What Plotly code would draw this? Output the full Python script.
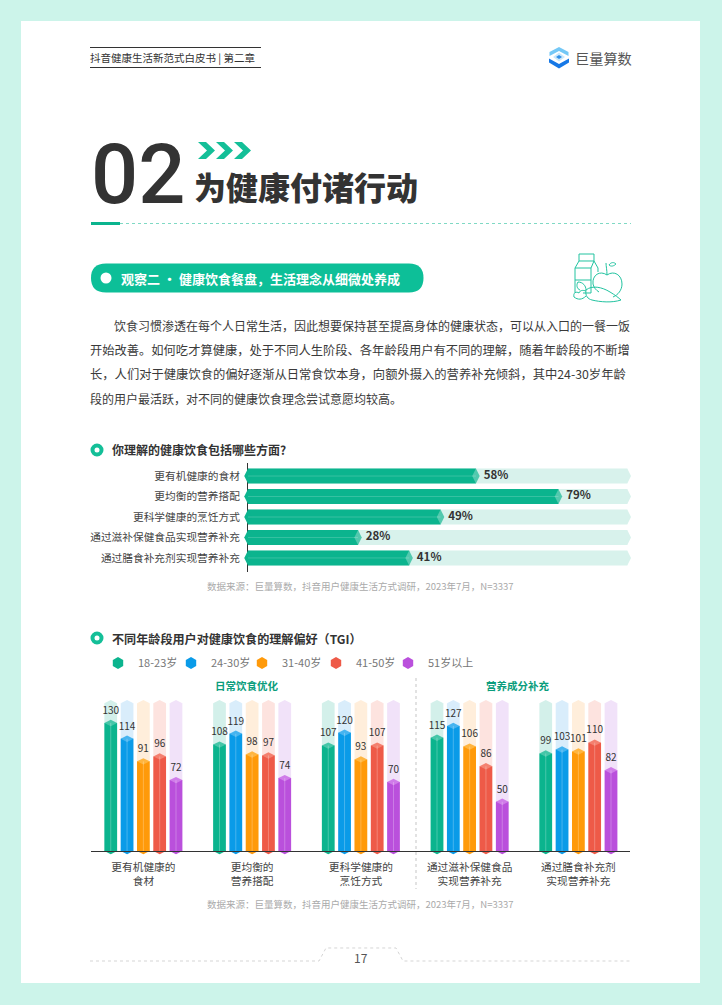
import re
import plotly.graph_objects as go

W, H = 722, 1005
CJK = "Noto Sans CJK SC"

# ---- data ----
bar_categories = ["更有机健康的食材", "更均衡的营养搭配", "更科学健康的烹饪方式",
                  "通过滋补保健食品实现营养补充", "通过膳食补充剂实现营养补充"]
bar_values = [58, 79, 49, 28, 41]
bar_track = 96.5

tgi_categories = ["更有机健康的<br>食材", "更均衡的<br>营养搭配", "更科学健康的<br>烹饪方式",
                  "通过滋补保健食品<br>实现营养补充", "通过膳食补充剂<br>实现营养补充"]
age_groups = ["18-23岁", "24-30岁", "31-40岁", "41-50岁", "51岁以上"]
tgi_18_23 = [130, 108, 107, 115, 99]
tgi_24_30 = [114, 119, 120, 127, 103]
tgi_31_40 = [91, 98, 93, 106, 101]
tgi_41_50 = [96, 97, 107, 86, 110]
tgi_51_up = [72, 74, 70, 50, 82]
tgi_track = 150

body_lines = ["饮食习惯渗透在每个人日常生活，因此想要保持甚至提高身体的健康状态，可以从入口的一餐一饭",
              "开始改善。如何吃才算健康，处于不同人生阶段、各年龄段用户有不同的理解，随着年龄段的不断增",
              "长，人们对于健康饮食的偏好逐渐从日常食饮本身，向额外摄入的营养补充倾斜，其中24-30岁年龄",
              "段的用户最活跃，对不同的健康饮食理念尝试意愿均较高。"]
source_text = "数据来源：巨量算数，抖音用户健康生活方式调研，2023年7月，N=3337"

# colours
GREEN = "#0bb48e"
main_colors = ["#0bb48e", "#0a9be8", "#ff9a0a", "#ee5a48", "#ba50dc"]
cap_colors = ["#45c6a8", "#45b4f0", "#ffb53f", "#f4806f", "#d07ce9"]
track_colors = ["#d3f0ea", "#d9edfb", "#ffeedb", "#fde3df", "#f1e2f9"]


# page pixels -> paper coords
def px(x):
    return x / W


def py(y):
    return 1 - y / H


def svg(d):
    # "M x y L x y Q ..." written in page pixels, numbers come in x,y pairs
    out, is_x = [], True
    for tok in re.findall(r"[A-Za-z]|-?[\d.]+", d):
        if tok.isalpha():
            out.append(tok)
        else:
            out.append(f"{px(float(tok)):.5f}" if is_x else f"{py(float(tok)):.5f}")
            is_x = not is_x
    return " ".join(out)


shapes = []
annotations = []


def rect(x0, y0, x1, y1, color, layer="below"):
    shapes.append(dict(type="rect", xref="paper", yref="paper", x0=px(x0), x1=px(x1), y0=py(y0), y1=py(y1),
                       fillcolor=color, line_width=0, layer=layer))


def circle(cx, cy, r, color, layer="above"):
    shapes.append(dict(type="circle", xref="paper", yref="paper", x0=px(cx - r), x1=px(cx + r),
                       y0=py(cy - r), y1=py(cy + r), fillcolor=color, line_width=0, layer=layer))


def line(x0, y0, x1, y1, color, width=1, dash="solid"):
    shapes.append(dict(type="line", xref="paper", yref="paper", x0=px(x0), x1=px(x1), y0=py(y0), y1=py(y1),
                       line=dict(color=color, width=width, dash=dash)))


def path(d, fill=None, color=None, width=0, dash="solid"):
    shapes.append(dict(type="path", xref="paper", yref="paper", path=svg(d),
                       fillcolor=fill if fill else "rgba(0,0,0,0)",
                       line=dict(color=color if color else "rgba(0,0,0,0)", width=width, dash=dash)))


def text(x, y, s, size, color="#333333", anchor="left", weight=400, family=CJK):
    annotations.append(dict(xref="paper", yref="paper", x=px(x), y=py(y), text=s, showarrow=False,
                            xanchor=anchor, yanchor="middle", align=anchor, borderpad=0, borderwidth=0,
                            font=dict(family=family, size=size, color=color, weight=weight)))


fig = go.Figure()

# ---- horizontal bars ----
ypos = bar_categories
fig.add_trace(go.Bar(x=[bar_track] * 5, y=ypos, orientation="h", marker=dict(color="#d8f2ec", line_width=0),
                     xaxis="x", yaxis="y", showlegend=False))
fig.add_trace(go.Bar(x=bar_values, y=ypos, orientation="h", marker=dict(color=GREEN, line_width=0),
                     xaxis="x", yaxis="y", showlegend=False))
# pointed ends
fig.add_trace(go.Scatter(x=[bar_track] * 5, y=ypos, mode="markers", cliponaxis=False, showlegend=False,
                         marker=dict(symbol="diamond-tall", size=10.7, color="#d8f2ec", line_width=0),
                         xaxis="x", yaxis="y"))
fig.add_trace(go.Scatter(x=[0] * 5, y=ypos, mode="markers", cliponaxis=False, showlegend=False,
                         marker=dict(symbol="diamond-tall", size=10.7, color=GREEN, line_width=0),
                         xaxis="x", yaxis="y"))
fig.add_trace(go.Scatter(x=bar_values, y=ypos, mode="markers+text", cliponaxis=False, showlegend=False,
                         text=[f"{v}%" for v in bar_values], textposition="middle right",
                         textfont=dict(family=CJK, size=11.5, color="#333333", weight=700),
                         marker=dict(symbol="diamond-tall", size=10.7, color="#52c9ae", line_width=0),
                         xaxis="x", yaxis="y"))
# thin highlight along each bar
hx, hy = [], []
for c, v in zip(ypos, bar_values):
    hx += [0, v, None]
    hy += [c, c, None]
fig.add_trace(go.Scatter(x=hx, y=hy, mode="lines", line=dict(color="rgba(255,255,255,0.18)", width=1),
                         showlegend=False, xaxis="x", yaxis="y"))

# ---- TGI columns ----
tgi_series = [tgi_18_23, tgi_24_30, tgi_31_40, tgi_41_50, tgi_51_up]
pitch = 0.15
col_w = 0.117
for j, vals in enumerate(tgi_series):
    xs = [i + (j - 2) * pitch for i in range(5)]
    fig.add_trace(go.Bar(x=xs, y=[tgi_track] * 5, width=col_w, marker=dict(color=track_colors[j], line_width=0),
                         xaxis="x2", yaxis="y2", showlegend=False))
    fig.add_trace(go.Scatter(x=xs, y=[tgi_track] * 5, mode="markers", cliponaxis=False, showlegend=False,
                             marker=dict(symbol="diamond-wide", size=9.1, color=track_colors[j], line_width=0),
                             xaxis="x2", yaxis="y2"))
for j, vals in enumerate(tgi_series):
    xs = [i + (j - 2) * pitch for i in range(5)]
    fig.add_trace(go.Bar(x=xs, y=vals, width=col_w, marker=dict(color=main_colors[j], line_width=0),
                         xaxis="x2", yaxis="y2", showlegend=False))
    fig.add_trace(go.Scatter(x=xs, y=[0] * 5, mode="markers", cliponaxis=False, showlegend=False,
                             marker=dict(symbol="diamond-wide", size=9.1, color=main_colors[j], line_width=0),
                             xaxis="x2", yaxis="y2"))
    fig.add_trace(go.Scatter(x=xs, y=vals, mode="markers+text", cliponaxis=False, showlegend=False,
                             text=[str(v) for v in vals], textposition="top center",
                             textfont=dict(family=CJK, size=10, color="#333333"),
                             marker=dict(symbol="diamond-wide", size=9.1, color=cap_colors[j], line_width=0),
                             xaxis="x2", yaxis="y2"))
    lx, ly = [], []
    for x, v in zip(xs, vals):
        lx += [x, x, None]
        ly += [0, v, None]
    fig.add_trace(go.Scatter(x=lx, y=ly, mode="lines", line=dict(color="rgba(255,255,255,0.25)", width=1),
                             showlegend=False, xaxis="x2", yaxis="y2"))
    # legend swatch, one legend per entry so the spacing can be tight
    fig.add_trace(go.Scatter(x=[None], y=[None], mode="markers", name=age_groups[j],
                             legend="legend" if j == 0 else f"legend{j + 1}",
                             marker=dict(symbol="hexagon", size=11, color=main_colors[j], line_width=0),
                             xaxis="x2", yaxis="y2"))

# ---- page furniture ----
rect(21, 21, 700, 983, "#ffffff")

line(90, 47.5, 261, 47.5, "#333333", 1)
line(90, 67.5, 261, 67.5, "#333333", 1)
text(90, 57.5, "抖音健康生活新范式白皮书 | 第二章", 10.5, "#333333")

# logo
path("M 559 47 L 568.5 52 L 568.5 56 L 559 51 L 549.5 56 L 549.5 52 Z", fill="#74c8f6")
path("M 559 52.5 L 565 57 L 559 61.5 L 553 57 Z", fill="#c9e8fb")
path("M 559 55 L 562 57 L 559 59 L 556 57 Z", fill="#2f8fe8")
path("M 549 58.5 L 559 64 L 569 58.5 L 569 62.5 L 559 68.5 L 549 62.5 Z", fill="#1678e6")
text(575, 57.5, "巨量算数", 14.2, "#555555")

text(91, 174, "02", 83, "#333333", weight=500, family="Roboto")
for dx in [0, 18, 36]:
    path(f"M {198 + dx} 142 L {206 + dx} 142 L {215 + dx} 150.5 L {206 + dx} 159 L {198 + dx} 159 "
         f"L {207 + dx} 150.5 Z", fill="#14bf98")
text(194, 185.5, "为健康付诸行动", 32, "#333333", weight=900)

line(120, 223.5, 631, 223.5, "#7fd9c4", 1, "dot")
rect(91, 222, 120, 225, GREEN, "above")

# pill
path("M 106 263.5 L 409 263.5 Q 423.5 263.5 423.5 278 Q 423.5 292.5 409 292.5 L 106 292.5 "
     "Q 91 292.5 91 278 Q 91 263.5 106 263.5 Z", fill="#0dbf98")
circle(106, 278, 5.5, "#ffffff")
text(121, 278, "观察二 · 健康饮食餐盘，生活理念从细微处养成", 13, "#ffffff", weight=700)

# icon, teal outline
ICON = "#22c3a0"
path("M 575 293 L 575 268 L 579 261 L 579 254 L 594 254 L 594 261 L 598 268 L 598 272", color=ICON, width=1)
path("M 579 261 L 594 261", color=ICON, width=1)
path("M 575 268 L 591 268 L 591 293 L 583 293", color=ICON, width=1)
path("M 591 268 L 594 261", color=ICON, width=1)
path("M 575 280 L 591 280", color=ICON, width=1)
# apple
path("M 607 275 C 600 270 592 275 593 284 C 594 288 596 290 599 292 M 607 275 C 614 270 622 275 622 284 "
     "C 622 290 618 295 613 297", color=ICON, width=1)
path("M 607 275 C 607 270 606 266 606 263", color=ICON, width=1)
path("M 609 265 C 611 262 614 262 616 264 C 614 266 611 267 609 265 Z", color=ICON, width=1)
# carrot
path("M 586 290 C 592 285 602 287 610 292 C 615 295 619 298 621 300 C 612 303 600 302 592 300 "
     "C 588 299 585 296 586 290 Z", color=ICON, width=1)
path("M 586 291 C 583 290 580 290 579 293 C 576 291 573 293 574 297 C 578 300 582 300 586 296", color=ICON, width=1)
path("M 586 290 C 586 286 583 282 578 282 C 576 285 577 289 580 290", color=ICON, width=1)

# body text, each line its own size so the block justifies to the right margin
body_sizes = [12, 12.27, 12.3, 12]
body_x = [114, 90, 90, 90]
body_y = [326, 350, 374, 398]
for s, fs, bx, by in zip(body_lines, body_sizes, body_x, body_y):
    text(bx, by, s, fs, "#3a3a3a")

# chart headings
circle(97, 450, 6.5, "#14bf98")
circle(97, 450, 2.5, "#ffffff")
text(112, 450, "你理解的健康饮食包括哪些方面?", 12, "#333333", weight=700)
text(360.5, 586, source_text, 9.5, "#aaaaaa", anchor="center")

circle(97, 638, 6.5, "#14bf98")
circle(97, 638, 2.5, "#ffffff")
text(112, 638, "不同年龄段用户对健康饮食的理解偏好（TGI）", 12.1, "#333333", weight=700)
text(247, 685, "日常饮食优化", 10.5, "#0a9d7c", anchor="center", weight=700)
text(518, 685, "营养成分补充", 10.5, "#0a9d7c", anchor="center", weight=700)
line(416, 678, 416, 889, "#d9d9d9", 1.5, "dot")
line(91, 851.5, 630, 851.5, "#333333", 1)
text(360.5, 904, source_text, 9.5, "#aaaaaa", anchor="center")

# footer
path("M 90 961 L 319 961 L 326 948 L 396 948 L 403 961 L 630 961", color="#d5d5d5", width=1, dash="dot")
text(360.5, 957, "17", 12, "#555555", anchor="center")

legend_style = dict(orientation="h", yanchor="middle", y=py(663), xanchor="left", itemsizing="constant",
                    bgcolor="rgba(0,0,0,0)", font=dict(family=CJK, size=11, color="#777777"))
legend_hex_x = [118, 191, 262, 336, 408]
legends = {("legend" if j == 0 else f"legend{j + 1}"): dict(legend_style, x=px(hx_ - 20))
           for j, hx_ in enumerate(legend_hex_x)}

fig.update_layout(
    width=W, height=H, margin=dict(l=0, r=0, t=0, b=0),
    paper_bgcolor="#ccf4ea", plot_bgcolor="rgba(0,0,0,0)",
    barmode="overlay", bargap=0.265,
    font=dict(family=CJK, color="#333333"),
    shapes=shapes, annotations=annotations, hovermode=False,
    # first chart
    xaxis=dict(domain=[px(248), px(630)], range=[0, 97.2], visible=False, anchor="y", fixedrange=True),
    yaxis=dict(domain=[py(572), py(463)], range=[4.686, -0.637], anchor="x", type="category",
               categoryorder="array", categoryarray=bar_categories,
               showline=True, linecolor="#333333", linewidth=1, layer="below traces",
               ticks="outside", ticklen=5, tickcolor="rgba(0,0,0,0)", showgrid=False, zeroline=False,
               tickfont=dict(family=CJK, size=10.7, color="#444444"), fixedrange=True),
    # second chart
    xaxis2=dict(domain=[px(89), px(632.75)], range=[-0.5, 4.5], anchor="y2", tickmode="array",
                tickvals=list(range(5)), ticktext=tgi_categories, showline=False, showgrid=False, zeroline=False,
                ticks="outside", ticklen=6, tickcolor="rgba(0,0,0,0)",
                tickfont=dict(family=CJK, size=10.7, color="#444444"), fixedrange=True),
    yaxis2=dict(domain=[py(851), py(693.4)], range=[0, 160], anchor="x2", visible=False, fixedrange=True),
    **legends,
)

fig.write_html("out.html", config=dict(displayModeBar=False),
               post_script="document.body.style.margin='0';document.documentElement.style.overflow='hidden';")
